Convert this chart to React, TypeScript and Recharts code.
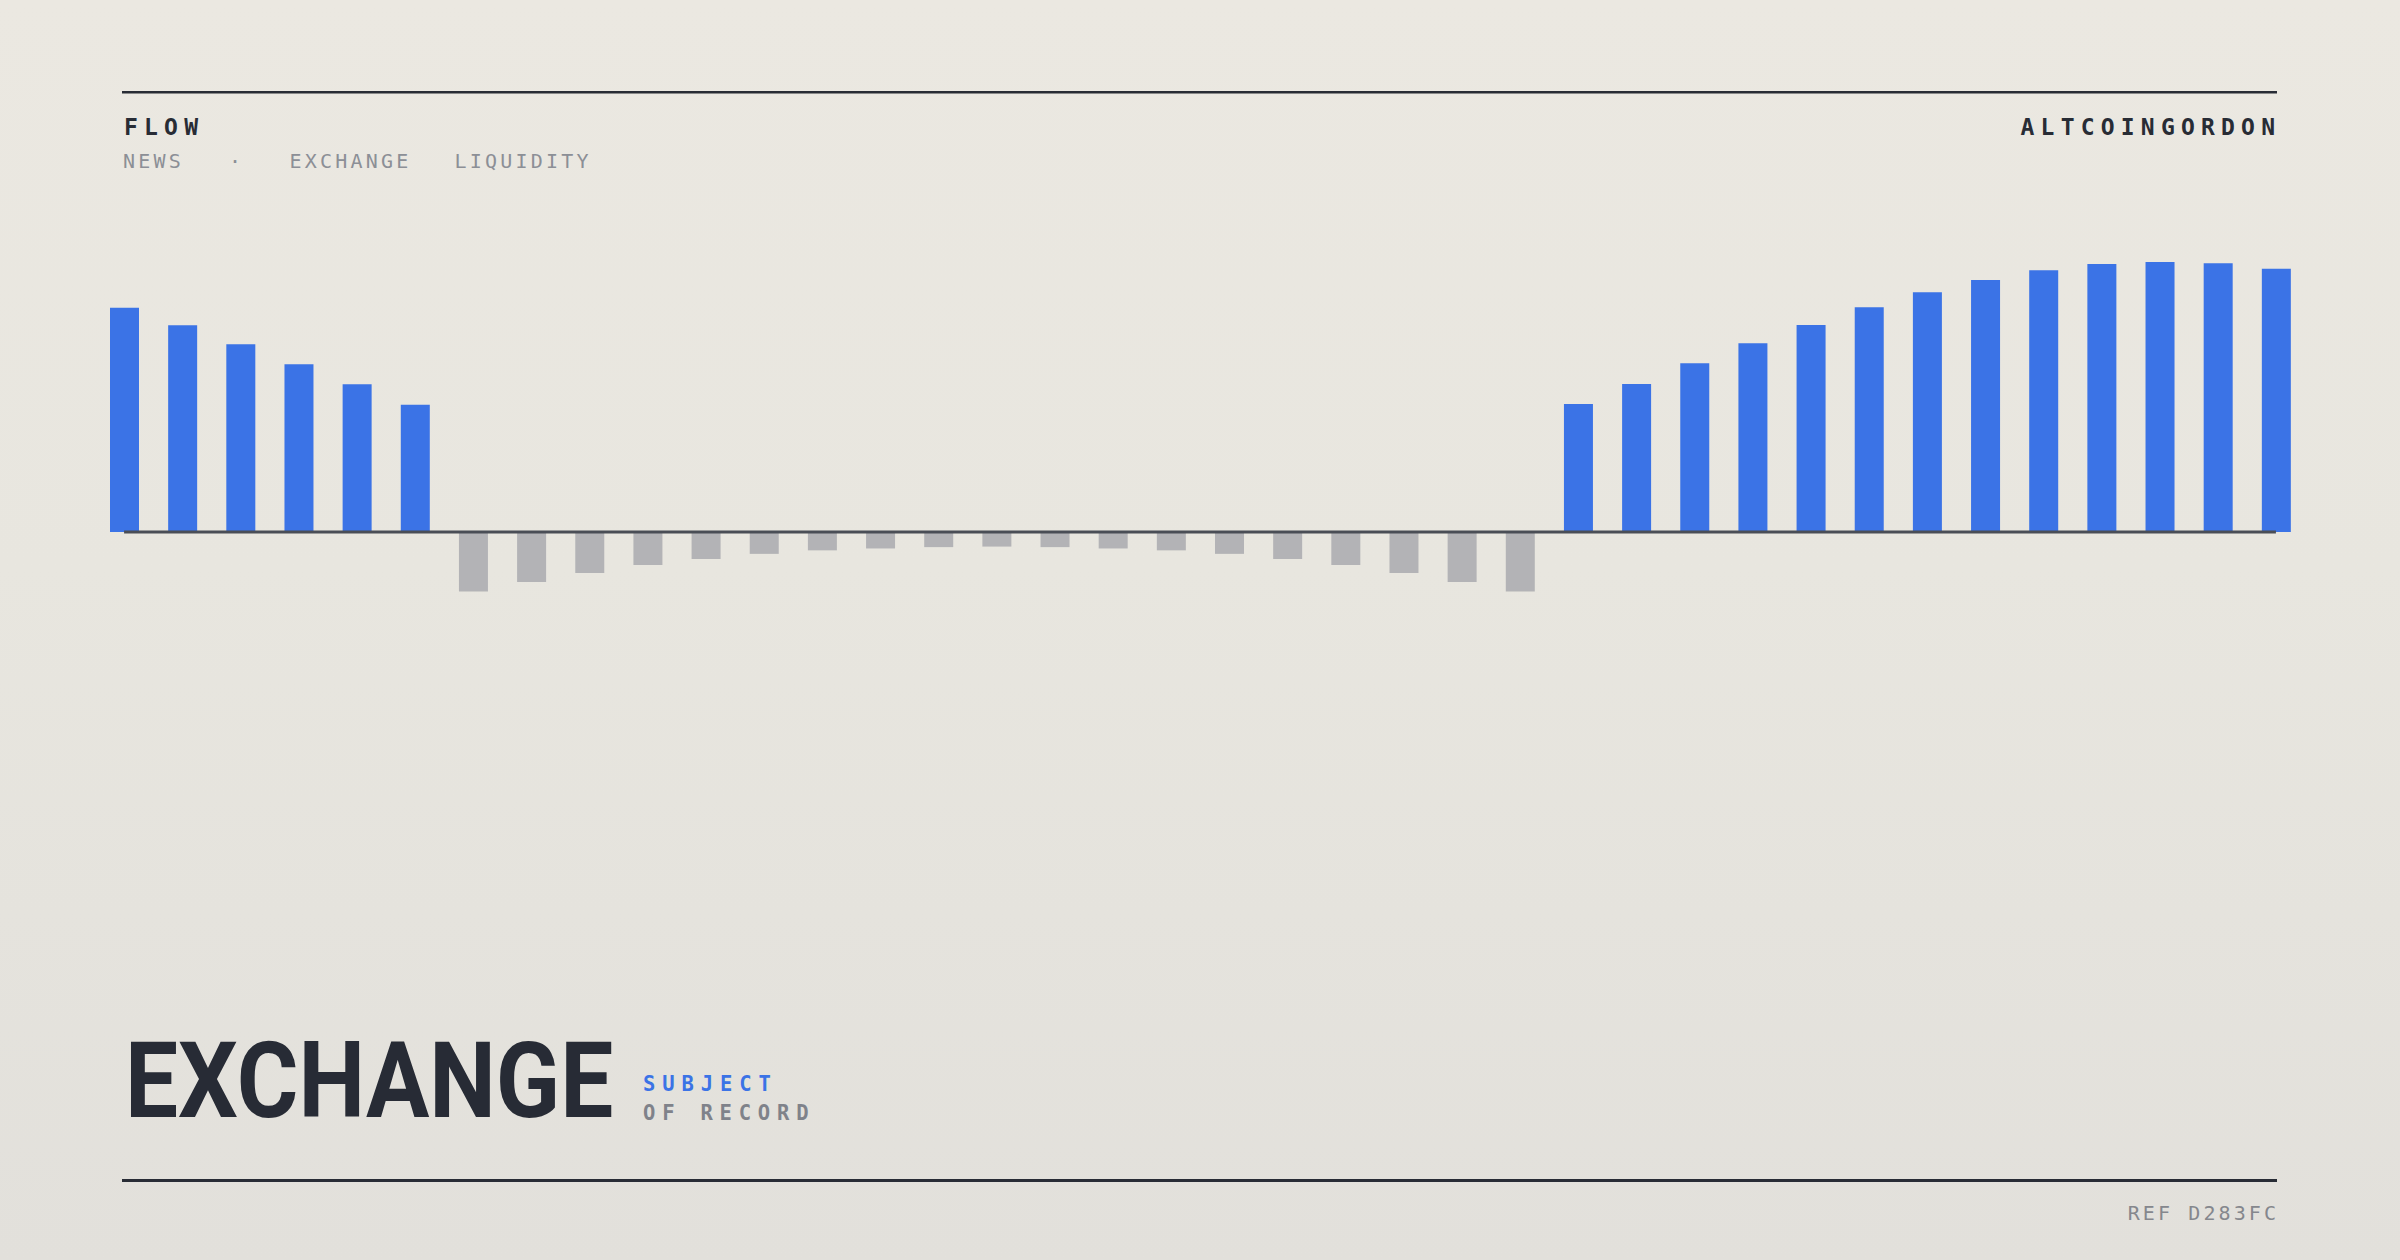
import { BarChart, Bar, XAxis, YAxis, ReferenceLine, Cell } from 'recharts'

// weekly exchange flow, inflow positive / outflow negative
const categories = [
  'W01', 'W02', 'W03', 'W04', 'W05', 'W06', 'W07', 'W08', 'W09', 'W10',
  'W11', 'W12', 'W13', 'W14', 'W15', 'W16', 'W17', 'W18', 'W19', 'W20',
  'W21', 'W22', 'W23', 'W24', 'W25', 'W26', 'W27', 'W28', 'W29', 'W30',
  'W31', 'W32', 'W33', 'W34', 'W35', 'W36', 'W37', 'W38',
]
const leftInflow = [83.1, 76.6, 69.5, 62.1, 54.7, 47.1]
const outflow = [
  -22, -18.5, -15.2, -12.2, -10, -8.1, -6.8, -6.1, -5.6, -5.4,
  -5.6, -6.1, -6.8, -8.1, -10, -12.2, -15.2, -18.5, -22,
]
const rightInflow = [47.4, 54.8, 62.5, 69.9, 76.7, 83.2, 88.8, 93.3, 96.9, 99.3, 100, 99.5, 97.5]

const flowValues = [...leftInflow, ...outflow, ...rightInflow]
const data = categories.map((k, i) => ({ k, v: flowValues[i] }))

const BLUE = '#3b73e6'
const GRAY = '#b3b3b6'
const INK = '#282c35'
const MONO = "'DejaVu Sans Mono', monospace"

export default function App() {
  return (
    <div style={{
      position: 'absolute', left: 0, top: 0, width: 2400, height: 1260, overflow: 'hidden',
      background: 'linear-gradient(180deg, #ebe8e1 0%, #e8e6df 45%, #e2e0db 100%)',
    }}>
      <div style={{ position: 'absolute', left: 0, top: 0 }}>
        <BarChart width={2400} height={900} data={data}
          margin={{ top: 262, right: 95, bottom: 98, left: 95 }}>
          <XAxis dataKey="k" hide />
          <YAxis type="number" domain={[-100, 100]} allowDataOverflow hide />
          <Bar dataKey="v" barSize={29} isAnimationActive={false}>
            {data.map((d, i) => (
              <Cell key={i} fill={d.v >= 0 ? BLUE : GRAY} />
            ))}
          </Bar>
          <ReferenceLine
            segment={[{ x: categories[0], y: 0 }, { x: categories[categories.length - 1], y: 0 }]}
            stroke="#4a4e56"
            strokeWidth={3}
          />
        </BarChart>
      </div>

      <svg width={2400} height={1260} style={{ position: 'absolute', left: 0, top: 0, pointerEvents: 'none' }}>
        <rect x={122} y={91} width={2155} height={2.5} fill={INK} />
        <rect x={122} y={1179} width={2155} height={3} fill={INK} />

        <text x={124} y={135} fontFamily={MONO} fontSize={23} fontWeight={700}
          letterSpacing={6.2} fill={INK}>FLOW</text>
        <text x={2275 + 6.2} y={135} fontFamily={MONO} fontSize={23} fontWeight={700}
          letterSpacing={6.2} fill={INK} textAnchor="end">ALTCOINGORDON</text>

        <g fontFamily={MONO} fontSize={20} letterSpacing={3.2} fill="#8c8f96">
          <text x={123} y={168}>NEWS</text>
          <text x={229} y={168}>·</text>
          <text x={289.5} y={168}>EXCHANGE</text>
          <text x={454.5} y={168}>LIQUIDITY</text>
        </g>

        <text transform="translate(125,1117) scale(0.89,1)" x={0} y={0}
          fontFamily="'Roboto', sans-serif" fontSize={106} fontWeight={700}
          fill="#272b35">EXCHANGE</text>

        <text x={643} y={1090.5} fontFamily={MONO} fontSize={20.5} fontWeight={700}
          letterSpacing={6.9} fill={BLUE}>SUBJECT</text>
        <text x={643} y={1120} fontFamily={MONO} fontSize={20.5} fontWeight={700}
          letterSpacing={6.8} fill="#7f828a">OF RECORD</text>

        <text x={2276 + 3.1} y={1220} fontFamily={MONO} fontSize={20}
          letterSpacing={3.1} fill="#85878d" textAnchor="end">REF D283FC</text>
      </svg>
    </div>
  )
}
